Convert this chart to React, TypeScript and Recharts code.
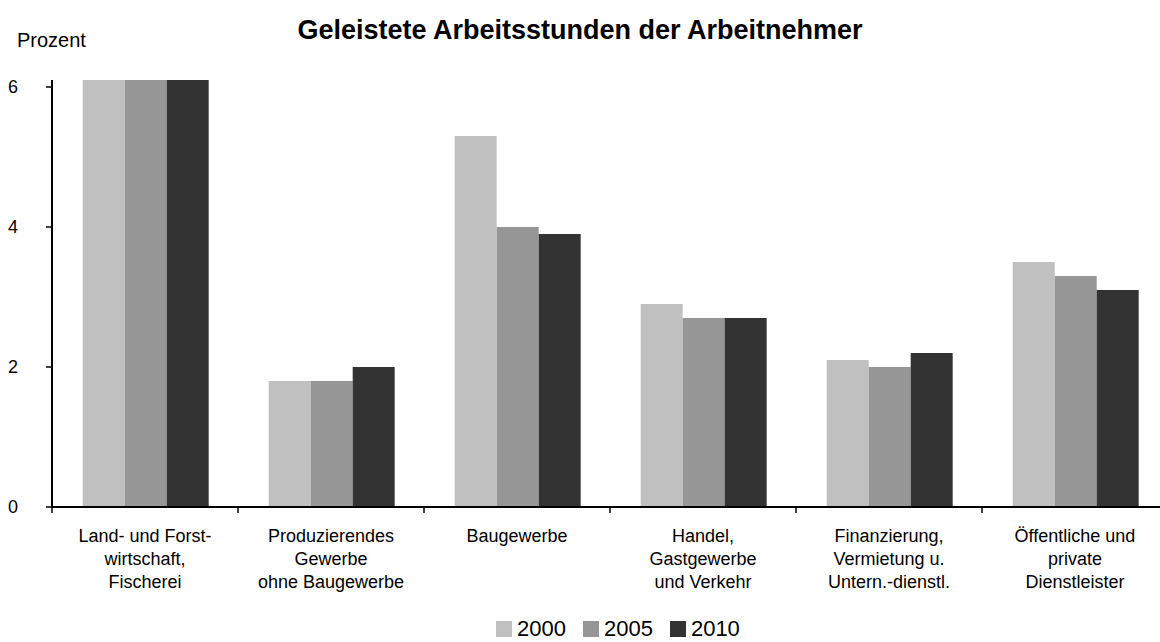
import React from 'react';
import { BarChart, Bar, XAxis, YAxis, Legend } from 'recharts';

const categories = [
  'Land- und Forst-\nwirtschaft,\nFischerei',
  'Produzierendes\nGewerbe\nohne Baugewerbe',
  'Baugewerbe',
  'Handel,\nGastgewerbe\nund Verkehr',
  'Finanzierung,\nVermietung u.\nUntern.-dienstl.',
  'Öffentliche und\nprivate\nDienstleister',
];
const years = ['2000', '2005', '2010'];
const values2000 = [6.1, 1.8, 5.3, 2.9, 2.1, 3.5];
const values2005 = [6.1, 1.8, 4.0, 2.7, 2.0, 3.3];
const values2010 = [6.1, 2.0, 3.9, 2.7, 2.2, 3.1];
const yTicks = [0, 2, 4, 6];

const colors = ['#c0c0c0', '#969696', '#333333'];
const font = '"Liberation Sans", Arial, sans-serif';

const data = categories.map((c, i) => ({
  cat: c,
  y2000: values2000[i],
  y2005: values2005[i],
  y2010: values2010[i],
}));

// category label plus a tick mark on the left boundary of each band
function CatTick({ x, y, payload }: any) {
  const lines = String(payload.value).split('\n');
  const half = payload.offset || 0;
  return (
    <g>
      <line x1={x - half} x2={x - half} y1={y} y2={y + 6} stroke="#000" strokeWidth={1.5} />
      <text x={x} y={y} textAnchor="middle" fontSize={18} fill="#000" fontFamily={font}>
        {lines.map((l, i) => (
          <tspan key={i} x={x} dy={i === 0 ? 35 : 23}>{l}</tspan>
        ))}
      </text>
    </g>
  );
}

function LegendBox({ payload }: any) {
  return (
    <div style={{ display: 'flex', alignItems: 'center', fontFamily: font, fontSize: 22, color: '#000', height: 20 }}>
      {(payload || []).map((p: any, i: number) => (
        <div key={i} style={{ display: 'flex', alignItems: 'center', marginRight: 17 }}>
          <span style={{ display: 'inline-block', width: 16, height: 16, background: p.color, marginRight: 5 }} />
          <span style={{ lineHeight: '20px' }}>{p.value}</span>
        </div>
      ))}
    </div>
  );
}

export default function App() {
  return (
    <div style={{ position: 'absolute', left: 0, top: 0, width: 1160, height: 642, overflow: 'hidden', background: '#fff' }}>
      <div style={{ position: 'absolute', left: 0, width: 1160, top: 17, textAlign: 'center', fontFamily: font, fontWeight: 'bold', fontSize: 27, lineHeight: '27px', color: '#000', zIndex: 2 }}>
        Geleistete Arbeitsstunden der Arbeitnehmer
      </div>
      <div style={{ position: 'absolute', left: 17, top: 30, fontFamily: font, fontSize: 20, lineHeight: '20px', color: '#000', zIndex: 2 }}>
        Prozent
      </div>
      <BarChart
        width={1168}
        height={642}
        data={data}
        margin={{ top: 80, right: 0, bottom: 0, left: 0 }}
        barCategoryGap="16.5%"
        barGap={0}
      >
        <XAxis
          dataKey="cat"
          tick={<CatTick />}
          tickLine={false}
          tickSize={0}
          tickMargin={0}
          interval={0}
          axisLine={{ stroke: '#000', strokeWidth: 2 }}
          height={105}
        />
        <YAxis
          domain={[0, 6.1]}
          ticks={yTicks}
          width={52}
          tickSize={6}
          tickMargin={28}
          axisLine={{ stroke: '#000', strokeWidth: 2 }}
          tickLine={{ stroke: '#000', strokeWidth: 1.5 }}
          tick={{ fontSize: 18, fill: '#000', fontFamily: font }}
        />
        <Legend
          verticalAlign="bottom"
          height={30}
          content={<LegendBox />}
          wrapperStyle={{ left: 496, top: 619, width: 'auto' }}
        />
        <Bar dataKey="y2000" name={years[0]} fill={colors[0]} isAnimationActive={false} />
        <Bar dataKey="y2005" name={years[1]} fill={colors[1]} isAnimationActive={false} />
        <Bar dataKey="y2010" name={years[2]} fill={colors[2]} isAnimationActive={false} />
      </BarChart>
    </div>
  );
}
